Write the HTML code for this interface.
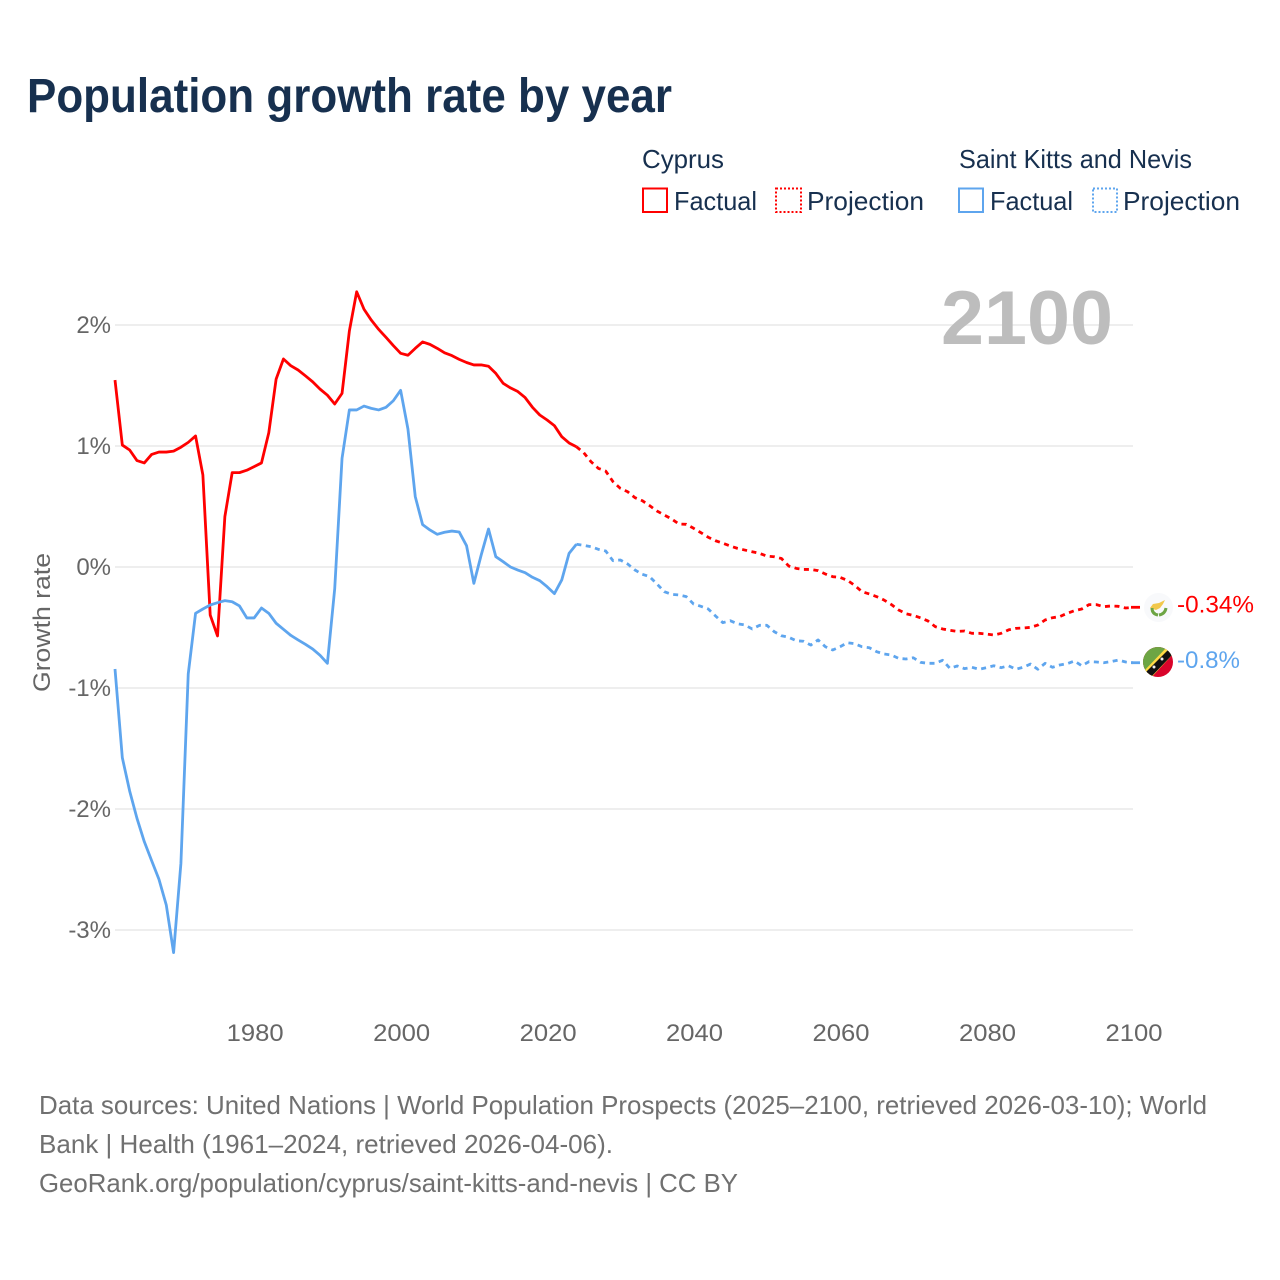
<!DOCTYPE html>
<html lang="en">
<head>
<meta charset="utf-8">
<title>Population growth rate by year</title>
<style>
html,body{margin:0;padding:0;background:#fff;}
svg{display:block;font-family:"Liberation Sans",sans-serif;}
</style>
</head>
<body>
<svg id="chart" xmlns="http://www.w3.org/2000/svg" width="1280" height="1280" viewBox="0 0 1280 1280">
  <rect x="0" y="0" width="1280" height="1280" fill="#ffffff"/>
  <text x="27" y="112" font-size="48" font-weight="700" fill="#17304f" textLength="645" lengthAdjust="spacingAndGlyphs">Population growth rate by year</text>

  <g font-size="26" fill="#17304f">
    <text x="642" y="168" textLength="82" lengthAdjust="spacingAndGlyphs">Cyprus</text>
    <text x="959" y="168" textLength="233" lengthAdjust="spacingAndGlyphs">Saint Kitts and Nevis</text>
    <rect x="643" y="188.500" width="24" height="23.500" fill="none" stroke="#ff0000" stroke-width="2"/>
    <text x="674" y="210" textLength="83" lengthAdjust="spacingAndGlyphs">Factual</text>
    <rect x="776" y="188.500" width="25" height="23.500" fill="none" stroke="#ff0000" stroke-width="2" stroke-dasharray="2 2"/>
    <text x="807" y="210" textLength="117" lengthAdjust="spacingAndGlyphs">Projection</text>
    <rect x="959" y="188.500" width="24" height="23.500" fill="none" stroke="#5ea5ee" stroke-width="2"/>
    <text x="990" y="210" textLength="83" lengthAdjust="spacingAndGlyphs">Factual</text>
    <rect x="1093" y="188.500" width="24" height="23.500" fill="none" stroke="#5ea5ee" stroke-width="2" stroke-dasharray="2 2"/>
    <text x="1123" y="210" textLength="117" lengthAdjust="spacingAndGlyphs">Projection</text>
  </g>

  <g id="grid"></g>
  <g id="yticks" font-size="24" fill="#666666" text-anchor="end"></g>
  <g id="xticks" font-size="24" fill="#666666" text-anchor="middle"></g>
  <text transform="translate(50,692) rotate(-90)" font-size="24" fill="#666666" textLength="139" lengthAdjust="spacingAndGlyphs">Growth rate</text>
  <text x="941" y="344" font-size="76" font-weight="700" fill="#bdbdbd" textLength="172" lengthAdjust="spacingAndGlyphs">2100</text>

  <g id="series" fill="none" stroke-width="2.8" stroke-linejoin="round"></g>

  <defs>
    <clipPath id="flag-clip-kn"><circle cx="1158" cy="662" r="15"/></clipPath>
  </defs>
  <g>
    <circle cx="1158.500" cy="607.500" r="14.500" fill="#f8f9fb"/>
    <path d="M1150 608 L1153 604 L1159 603 L1165 600 L1163 604 L1160 608 L1156 610 Z" fill="#f2c84b"/>
    <path d="M1152 608 Q1152 614 1158 615 M1166 608 Q1165 614 1159 615" fill="none" stroke="#6da544" stroke-width="3"/>
  </g>
  <g clip-path="url(#flag-clip-kn)">
    <rect x="1143" y="646" width="30" height="32" fill="#d9042b"/>
    <polygon points="1143,647 1173,647 1143,677" fill="#6da544"/>
    <polygon points="1143,672 1167,647 1175,652 1149,680" fill="#ffda44"/>
    <polygon points="1145,673 1168,650 1173,654 1150,678" fill="#111111"/>
    <circle cx="1154" cy="667" r="1.500" fill="#eeeeee"/>
    <circle cx="1162" cy="659" r="1.500" fill="#eeeeee"/>
  </g>
  <text x="1177" y="612.500" font-size="24" fill="#ff0000" textLength="77" lengthAdjust="spacingAndGlyphs">-0.34%</text>
  <text x="1177" y="668" font-size="24" fill="#5ea5ee" textLength="63" lengthAdjust="spacingAndGlyphs">-0.8%</text>

  <g font-size="26" fill="#707070">
    <text x="39" y="1114" textLength="1168" lengthAdjust="spacingAndGlyphs">Data sources: United Nations | World Population Prospects (2025–2100, retrieved 2026-03-10); World</text>
    <text x="39" y="1153" textLength="574" lengthAdjust="spacingAndGlyphs">Bank | Health (1961–2024, retrieved 2026-04-06).</text>
    <text x="39" y="1192" textLength="699" lengthAdjust="spacingAndGlyphs">GeoRank.org/population/cyprus/saint-kitts-and-nevis | CC BY</text>
  </g>
</svg>
<script>
const xTicks = [1980, 2000, 2020, 2040, 2060, 2080, 2100];
const yTicks = [2, 1, 0, -1, -2, -3];
const firstYear = 1961;
const lastFactualYear = 2024;
const lastYear = 2100;
const cyprusGrowth = [
  1.545,1.008,0.967,0.88,0.86,0.93,0.95,0.95,0.958,0.99,
  1.03,1.083,0.76,-0.397,-0.57,0.416,0.78,0.78,0.80,0.83,
  0.86,1.11,1.553,1.719,1.664,1.628,1.58,1.53,1.47,1.42,
  1.347,1.435,1.95,2.275,2.13,2.04,1.964,1.898,1.83,1.766,
  1.75,1.807,1.86,1.84,1.807,1.77,1.747,1.716,1.69,1.67,
  1.67,1.659,1.6,1.518,1.48,1.45,1.4,1.32,1.256,1.215,
  1.168,1.077,1.025,0.994,
  0.945,0.87,0.815,0.793,0.705,0.65,0.622,0.573,0.548,0.507,
  0.463,0.43,0.397,0.355,0.353,0.32,0.284,0.246,0.217,0.196,
  0.174,0.154,0.14,0.126,0.113,0.09,0.085,0.07,0.008,-0.011,
  -0.02,-0.02,-0.03,-0.058,-0.08,-0.086,-0.11,-0.152,-0.204,-0.223,
  -0.245,-0.273,-0.31,-0.355,-0.386,-0.40,-0.42,-0.446,-0.493,-0.512,
  -0.523,-0.532,-0.529,-0.548,-0.548,-0.554,-0.562,-0.548,-0.52,-0.507,
  -0.504,-0.499,-0.48,-0.438,-0.419,-0.41,-0.383,-0.361,-0.347,-0.311,
  -0.311,-0.328,-0.322,-0.325,-0.339,-0.333
];
const kittsGrowth = [
  -0.843,-1.576,-1.851,-2.077,-2.27,-2.427,-2.581,-2.793,-3.187,-2.449,
  -0.884,-0.383,-0.347,-0.314,-0.295,-0.278,-0.287,-0.322,-0.421,-0.421,
  -0.339,-0.383,-0.465,-0.515,-0.565,-0.603,-0.639,-0.678,-0.73,-0.796,
  -0.18,0.898,1.298,1.298,1.33,1.311,1.298,1.32,1.374,1.46,
  1.14,0.581,0.35,0.306,0.27,0.287,0.297,0.289,0.176,-0.135,
  0.099,0.314,0.085,0.044,0,-0.025,-0.047,-0.085,-0.113,-0.163,
  -0.22,-0.107,0.113,0.188,
  0.179,0.168,0.146,0.132,0.052,0.058,0.025,-0.025,-0.06,-0.08,
  -0.14,-0.204,-0.226,-0.231,-0.245,-0.306,-0.325,-0.347,-0.405,-0.46,
  -0.444,-0.469,-0.479,-0.512,-0.482,-0.482,-0.534,-0.568,-0.581,-0.609,
  -0.614,-0.645,-0.603,-0.659,-0.686,-0.659,-0.626,-0.634,-0.659,-0.667,
  -0.7,-0.719,-0.727,-0.755,-0.76,-0.75,-0.788,-0.796,-0.796,-0.771,
  -0.837,-0.818,-0.84,-0.829,-0.845,-0.832,-0.816,-0.832,-0.816,-0.845,
  -0.829,-0.802,-0.845,-0.796,-0.829,-0.81,-0.799,-0.777,-0.816,-0.782,
  -0.785,-0.791,-0.782,-0.769,-0.785,-0.791
];

const NS = 'http://www.w3.org/2000/svg';
const plotLeft = 115;
const plotRight = 1133;
const zeroY = 567;
const pxPerPercent = 121;
const xScale = year => plotLeft + (year - firstYear) * (plotRight - plotLeft) / (lastYear - firstYear);
const yScale = value => zeroY - value * pxPerPercent;
const linePath = (values, fromYear, toYear) => {
  let d = '';
  for (let year = fromYear; year <= toYear; year++) {
    const v = values[year - firstYear];
    d += (d ? 'L' : 'M') + xScale(year).toFixed(2) + ' ' + yScale(v).toFixed(2);
  }
  return d;
};

const grid = document.getElementById('grid');
const yTickGroup = document.getElementById('yticks');
const xTickGroup = document.getElementById('xticks');
const seriesGroup = document.getElementById('series');

yTicks.forEach(tick => {
  const line = document.createElementNS(NS, 'line');
  line.setAttribute('x1', plotLeft);
  line.setAttribute('x2', plotRight);
  line.setAttribute('y1', yScale(tick));
  line.setAttribute('y2', yScale(tick));
  line.setAttribute('stroke', '#eeeeee');
  line.setAttribute('stroke-width', '2');
  
  
  grid.appendChild(line);

  const label = document.createElementNS(NS, 'text');
  label.setAttribute('x', 111);
  label.setAttribute('y', yScale(tick) + 8);
  label.textContent = tick + '%';
  
  
  yTickGroup.appendChild(label);
});

xTicks.forEach(tick => {
  const label = document.createElementNS(NS, 'text');
  label.setAttribute('x', xScale(tick) + 1);
  label.setAttribute('y', 1041);
  label.setAttribute('textLength', '57');
  label.setAttribute('lengthAdjust', 'spacingAndGlyphs');
  label.textContent = tick;
  
  
  xTickGroup.appendChild(label);
});

const addLine = (values, fromYear, toYear, color, dashed) => {
  const path = document.createElementNS(NS, 'path');
  path.setAttribute('d', linePath(values, fromYear, toYear));
  path.setAttribute('stroke', color);
  if (dashed) path.setAttribute('stroke-dasharray', '5 4.5');
  seriesGroup.appendChild(path);
  return path;
};

const addConnector = (values, color) => {
  const conn = document.createElementNS(NS, 'line');
  const endY = yScale(values[values.length - 1]);
  conn.setAttribute('x1', xScale(lastYear) - 2);
  conn.setAttribute('x2', xScale(lastYear) + 7);
  conn.setAttribute('y1', endY);
  conn.setAttribute('y2', endY);
  conn.setAttribute('stroke', color);
  seriesGroup.appendChild(conn);
  return conn;
};

const cyprusFactual = addLine(cyprusGrowth, firstYear, lastFactualYear, '#ff0000', false);



const cyprusProjection = addLine(cyprusGrowth, lastFactualYear, lastYear, '#ff0000', true);



const kittsFactual = addLine(kittsGrowth, firstYear, lastFactualYear, '#5ea5ee', false);



const kittsProjection = addLine(kittsGrowth, lastFactualYear, lastYear, '#5ea5ee', true);



const cyprusConnector = addConnector(cyprusGrowth, '#ff0000');



const kittsConnector = addConnector(kittsGrowth, '#5ea5ee');


</script>
</body>
</html>
